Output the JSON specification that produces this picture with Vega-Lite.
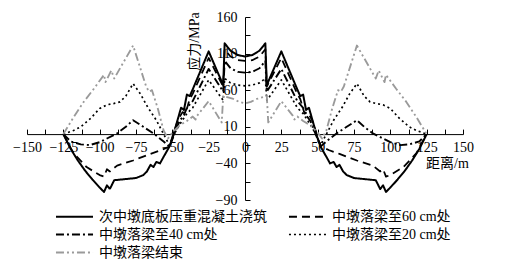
{
  "$schema": "https://vega.github.io/schema/vega-lite/v6.json",
  "width": 436,
  "height": 183,
  "autosize": "none",
  "padding": {"left": 27, "top": 17, "right": 62, "bottom": 66},
  "background": "white",
  "config": {
    "view": {"stroke": null},
    "font": "Liberation Serif, Noto Sans CJK SC",
    "axis": {
      "grid": false,
      "domainColor": "#000",
      "domainWidth": 1,
      "tickColor": "#000",
      "tickWidth": 1,
      "tickSize": -5,
      "labelFont": "Liberation Serif",
      "labelFontSize": 14,
      "labelColor": "#000",
      "titleFont": "Liberation Serif, Noto Sans CJK SC",
      "titleFontSize": 14,
      "titleFontWeight": "normal",
      "titleColor": "#000"
    },
    "legend": {
      "title": null,
      "orient": "none",
      "legendX": 39,
      "legendY": 191,
      "columns": 2,
      "symbolType": "M-2.47,0H2.47",
      "symbolSize": 225,
      "symbolStrokeWidth": 1.8,
      "symbolFillColor": "transparent",
      "labelFont": "Liberation Serif, Noto Sans CJK SC",
      "labelFontSize": 14,
      "labelColor": "#000",
      "labelLimit": 400,
      "labelOffset": 16,
      "columnPadding": 18,
      "rowPadding": 2,
      "padding": 0
    }
  },
  "data": {
    "values": [
      {"s":"a","x":-125,"y":0},{"s":"a","x":-120,"y":-20},{"s":"a","x":-115,"y":-36},{"s":"a","x":-110,"y":-50},{"s":"a","x":-105,"y":-62},{"s":"a","x":-100,"y":-73},{"s":"a","x":-97,"y":-79},{"s":"a","x":-95,"y":-70},{"s":"a","x":-93,"y":-75},{"s":"a","x":-90,"y":-63},{"s":"a","x":-85,"y":-62},{"s":"a","x":-80,"y":-61},{"s":"a","x":-75,"y":-60},{"s":"a","x":-70,"y":-56},{"s":"a","x":-67.5,"y":-51},{"s":"a","x":-65,"y":-42},{"s":"a","x":-63,"y":-45},{"s":"a","x":-61,"y":-38},{"s":"a","x":-58.5,"y":-40},{"s":"a","x":-56,"y":-31},{"s":"a","x":-52,"y":-17},{"s":"a","x":-50,"y":-6},{"s":"a","x":-47,"y":15},{"s":"a","x":-44,"y":36},{"s":"a","x":-42,"y":33},{"s":"a","x":-40,"y":54},{"s":"a","x":-38,"y":52},{"s":"a","x":-36,"y":61},{"s":"a","x":-25,"y":113},{"s":"a","x":-15,"y":67},{"s":"a","x":-14,"y":124},{"s":"a","x":-10,"y":114},{"s":"a","x":-5,"y":108},{"s":"a","x":0,"y":106},
      {"s":"a","x":5,"y":108},{"s":"a","x":10,"y":114},{"s":"a","x":14,"y":124},{"s":"a","x":15,"y":67},{"s":"a","x":25,"y":113},{"s":"a","x":36,"y":61},{"s":"a","x":38,"y":52},{"s":"a","x":40,"y":54},{"s":"a","x":42,"y":33},{"s":"a","x":44,"y":36},{"s":"a","x":47,"y":15},{"s":"a","x":50,"y":-6},{"s":"a","x":52,"y":-17},{"s":"a","x":56,"y":-31},{"s":"a","x":58.5,"y":-40},{"s":"a","x":61,"y":-38},{"s":"a","x":63,"y":-45},{"s":"a","x":65,"y":-42},{"s":"a","x":67.5,"y":-51},{"s":"a","x":70,"y":-56},{"s":"a","x":75,"y":-60},{"s":"a","x":80,"y":-61},{"s":"a","x":85,"y":-62},{"s":"a","x":90,"y":-63},{"s":"a","x":93,"y":-75},{"s":"a","x":95,"y":-70},{"s":"a","x":97,"y":-79},{"s":"a","x":100,"y":-73},{"s":"a","x":105,"y":-62},{"s":"a","x":110,"y":-50},{"s":"a","x":115,"y":-36},{"s":"a","x":120,"y":-20},{"s":"a","x":125,"y":0},

      {"s":"b","x":-125,"y":0},{"s":"b","x":-118,"y":-26},{"s":"b","x":-109,"y":-45},{"s":"b","x":-100,"y":-56},{"s":"b","x":-97,"y":-58},{"s":"b","x":-95,"y":-48},{"s":"b","x":-93,"y":-51},{"s":"b","x":-88,"y":-43},{"s":"b","x":-77,"y":-36},{"s":"b","x":-65,"y":-27},{"s":"b","x":-58,"y":-22},{"s":"b","x":-52,"y":-17},{"s":"b","x":-50,"y":-4},{"s":"b","x":-46,"y":20},{"s":"b","x":-43,"y":30},{"s":"b","x":-41,"y":28},{"s":"b","x":-38,"y":48},{"s":"b","x":-36,"y":55},{"s":"b","x":-25,"y":104},{"s":"b","x":-15,"y":65},{"s":"b","x":-14,"y":116},{"s":"b","x":-10,"y":106},{"s":"b","x":-5,"y":101},{"s":"b","x":0,"y":100},
      {"s":"b","x":5,"y":101},{"s":"b","x":10,"y":106},{"s":"b","x":14,"y":116},{"s":"b","x":15,"y":65},{"s":"b","x":25,"y":104},{"s":"b","x":36,"y":55},{"s":"b","x":38,"y":48},{"s":"b","x":41,"y":28},{"s":"b","x":43,"y":30},{"s":"b","x":46,"y":20},{"s":"b","x":50,"y":-4},{"s":"b","x":52,"y":-17},{"s":"b","x":58,"y":-22},{"s":"b","x":65,"y":-27},{"s":"b","x":77,"y":-36},{"s":"b","x":88,"y":-43},{"s":"b","x":93,"y":-51},{"s":"b","x":95,"y":-48},{"s":"b","x":97,"y":-58},{"s":"b","x":100,"y":-56},{"s":"b","x":109,"y":-45},{"s":"b","x":118,"y":-26},{"s":"b","x":125,"y":0},

      {"s":"c","x":-125,"y":0},{"s":"c","x":-120,"y":-10},{"s":"c","x":-113,"y":-14},{"s":"c","x":-107,"y":-15},{"s":"c","x":-100,"y":-11},{"s":"c","x":-95,"y":-6},{"s":"c","x":-88,"y":1},{"s":"c","x":-82,"y":10},{"s":"c","x":-77,"y":19},{"s":"c","x":-70,"y":10},{"s":"c","x":-63,"y":1},{"s":"c","x":-56,"y":-10},{"s":"c","x":-52,"y":-17},{"s":"c","x":-49,"y":-2},{"s":"c","x":-45,"y":18},{"s":"c","x":-42,"y":26},{"s":"c","x":-40,"y":36},{"s":"c","x":-36,"y":45},{"s":"c","x":-25,"y":89},{"s":"c","x":-15,"y":58},{"s":"c","x":-14,"y":100},{"s":"c","x":-10,"y":90},{"s":"c","x":-5,"y":85},{"s":"c","x":0,"y":84},
      {"s":"c","x":5,"y":85},{"s":"c","x":10,"y":90},{"s":"c","x":14,"y":100},{"s":"c","x":15,"y":58},{"s":"c","x":25,"y":89},{"s":"c","x":36,"y":45},{"s":"c","x":40,"y":36},{"s":"c","x":42,"y":26},{"s":"c","x":45,"y":18},{"s":"c","x":49,"y":-2},{"s":"c","x":52,"y":-17},{"s":"c","x":56,"y":-10},{"s":"c","x":63,"y":1},{"s":"c","x":70,"y":10},{"s":"c","x":77,"y":19},{"s":"c","x":82,"y":10},{"s":"c","x":88,"y":1},{"s":"c","x":95,"y":-6},{"s":"c","x":100,"y":-11},{"s":"c","x":107,"y":-15},{"s":"c","x":113,"y":-14},{"s":"c","x":120,"y":-10},{"s":"c","x":125,"y":0},

      {"s":"d","x":-125,"y":0},{"s":"d","x":-118,"y":5},{"s":"d","x":-113,"y":10},{"s":"d","x":-106,"y":22},{"s":"d","x":-100,"y":35},{"s":"d","x":-95,"y":40},{"s":"d","x":-90,"y":42},{"s":"d","x":-86,"y":44},{"s":"d","x":-82,"y":52},{"s":"d","x":-77,"y":69},{"s":"d","x":-72,"y":55},{"s":"d","x":-67,"y":37},{"s":"d","x":-61,"y":19},{"s":"d","x":-56,"y":0},{"s":"d","x":-52,"y":-15},{"s":"d","x":-49,"y":-1},{"s":"d","x":-45,"y":13},{"s":"d","x":-40,"y":28},{"s":"d","x":-36,"y":36},{"s":"d","x":-25,"y":74},{"s":"d","x":-15,"y":46},{"s":"d","x":-14,"y":76},{"s":"d","x":-10,"y":70},{"s":"d","x":-5,"y":67},{"s":"d","x":0,"y":66},
      {"s":"d","x":5,"y":67},{"s":"d","x":10,"y":70},{"s":"d","x":14,"y":76},{"s":"d","x":15,"y":46},{"s":"d","x":25,"y":74},{"s":"d","x":36,"y":36},{"s":"d","x":40,"y":28},{"s":"d","x":45,"y":13},{"s":"d","x":49,"y":-1},{"s":"d","x":52,"y":-15},{"s":"d","x":56,"y":0},{"s":"d","x":61,"y":19},{"s":"d","x":67,"y":37},{"s":"d","x":72,"y":55},{"s":"d","x":77,"y":69},{"s":"d","x":82,"y":52},{"s":"d","x":86,"y":44},{"s":"d","x":90,"y":42},{"s":"d","x":95,"y":40},{"s":"d","x":100,"y":35},{"s":"d","x":106,"y":22},{"s":"d","x":113,"y":10},{"s":"d","x":118,"y":5},{"s":"d","x":125,"y":0},

      {"s":"e","x":-125,"y":0},{"s":"e","x":-118,"y":23},{"s":"e","x":-111,"y":44},{"s":"e","x":-104,"y":62},{"s":"e","x":-97,"y":81},{"s":"e","x":-96,"y":71},{"s":"e","x":-92,"y":87},{"s":"e","x":-90,"y":76},{"s":"e","x":-77,"y":121},{"s":"e","x":-68,"y":65},{"s":"e","x":-66,"y":58},{"s":"e","x":-64,"y":60},{"s":"e","x":-60,"y":35},{"s":"e","x":-56,"y":5},{"s":"e","x":-53,"y":-6},{"s":"e","x":-50,"y":2},{"s":"e","x":-45,"y":12},{"s":"e","x":-40,"y":18},{"s":"e","x":-36,"y":24},{"s":"e","x":-34,"y":20},{"s":"e","x":-33,"y":25},{"s":"e","x":-25,"y":45},{"s":"e","x":-16,"y":16},{"s":"e","x":-15,"y":52},{"s":"e","x":-8,"y":48},{"s":"e","x":-4,"y":44},{"s":"e","x":0,"y":42},
      {"s":"e","x":4,"y":44},{"s":"e","x":8,"y":48},{"s":"e","x":15,"y":52},{"s":"e","x":16,"y":16},{"s":"e","x":25,"y":45},{"s":"e","x":33,"y":25},{"s":"e","x":34,"y":20},{"s":"e","x":36,"y":24},{"s":"e","x":40,"y":18},{"s":"e","x":45,"y":12},{"s":"e","x":50,"y":2},{"s":"e","x":53,"y":-6},{"s":"e","x":56,"y":5},{"s":"e","x":60,"y":35},{"s":"e","x":64,"y":60},{"s":"e","x":66,"y":58},{"s":"e","x":68,"y":65},{"s":"e","x":77,"y":121},{"s":"e","x":90,"y":76},{"s":"e","x":92,"y":87},{"s":"e","x":96,"y":71},{"s":"e","x":97,"y":81},{"s":"e","x":104,"y":62},{"s":"e","x":111,"y":44},{"s":"e","x":118,"y":23},{"s":"e","x":125,"y":0}
    ]
  },
  "mark": {"type": "line", "strokeJoin": "round"},
  "encoding": {
    "x": {
      "field": "x",
      "type": "quantitative",
      "scale": {"domain": [-150, 150], "nice": false},
      "axis": {
        "values": [-150,-137.5,-125,-112.5,-100,-87.5,-75,-62.5,-50,-37.5,-25,-12.5,0,12.5,25,37.5,50,62.5,75,87.5,100,112.5,125,137.5,150],
        "labelExpr": "datum.value % 25 == 0 ? datum.label : ''",
        "offset": -65.9,
        "labelPadding": 11,
        "labelFlush": false,
        "labelOverlap": false,
        "title": "距离/m",
        "titleX": 420,
        "titleY": 29,
        "titleAlign": "center",
        "titleBaseline": "middle",
        "titleAngle": 0
      }
    },
    "y": {
      "field": "y",
      "type": "quantitative",
      "scale": {"domain": [-90, 160], "nice": false, "zero": false},
      "axis": {
        "values": [-90,-65,-40,-15,10,35,60,85,110,135,160],
        "labelExpr": "(datum.value + 90) % 50 == 0 ? datum.label : ''",
        "offset": -218,
        "labelPadding": 13,
        "labelFlush": false,
        "labelOverlap": false,
        "title": "应力/MPa",
        "titleX": -51,
        "titleY": 24,
        "titleAngle": -90,
        "titleAlign": "center",
        "titleBaseline": "middle"
      }
    },
    "color": {
      "field": "s",
      "type": "nominal",
      "scale": {"domain": ["a","c","e","b","d"], "range": ["#000000","#000000","#9a9a9a","#000000","#000000"]},
      "legend": {
        "labelExpr": "datum.label == 'a' ? '次中墩底板压重混凝土浇筑' : datum.label == 'b' ? '中墩落梁至60 cm处' : datum.label == 'c' ? '中墩落梁至40 cm处' : datum.label == 'd' ? '中墩落梁至20 cm处' : '中墩落梁结束'"
      }
    },
    "strokeDash": {
      "field": "s",
      "type": "nominal",
      "scale": {"domain": ["a","c","e","b","d"], "range": [[1,0],[8,3,2,3],[8,3,2,3,2,3],[8,5],[2,3]]},
      "legend": {
        "labelExpr": "datum.label == 'a' ? '次中墩底板压重混凝土浇筑' : datum.label == 'b' ? '中墩落梁至60 cm处' : datum.label == 'c' ? '中墩落梁至40 cm处' : datum.label == 'd' ? '中墩落梁至20 cm处' : '中墩落梁结束'"
      }
    },
    "strokeWidth": {
      "field": "s",
      "type": "nominal",
      "scale": {"domain": ["a","c","e","b","d"], "range": [2,1.7,1.4,1.7,1.9]},
      "legend": null
    }
  }
}
